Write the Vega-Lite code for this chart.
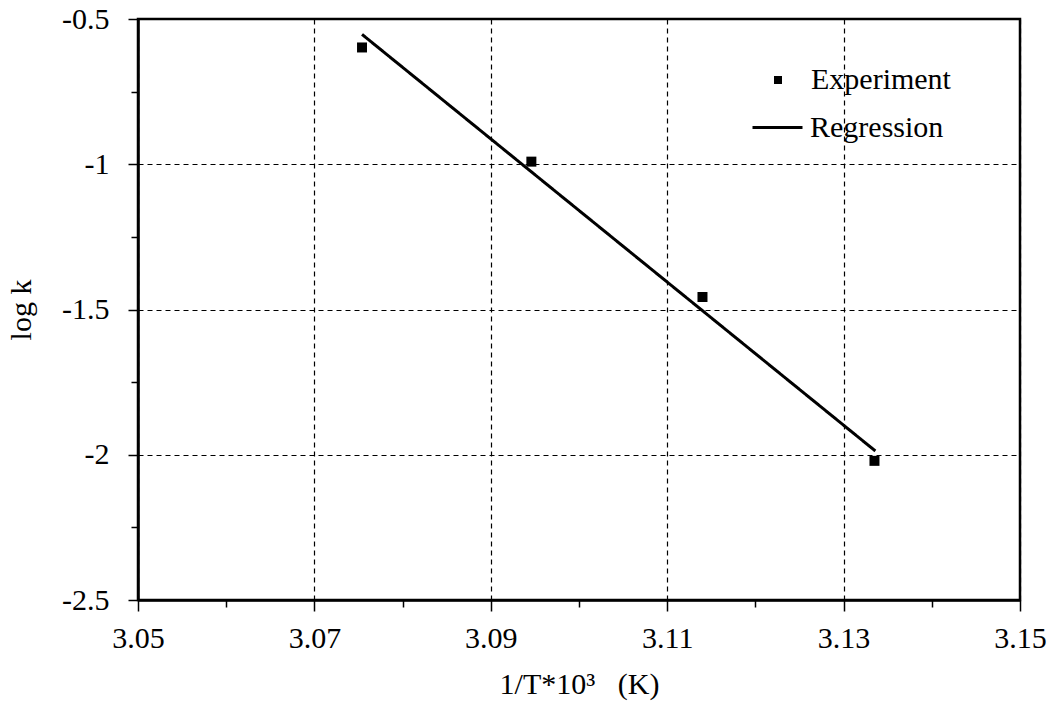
{
  "$schema": "https://vega.github.io/schema/vega-lite/v6.json",
  "width": 882,
  "height": 581,
  "autosize": {"type": "none"},
  "padding": {"left": 138, "top": 19, "right": 36, "bottom": 103},
  "background": "white",
  "config": {
    "view": {"stroke": "black", "strokeWidth": 2.5},
    "font": "Liberation Serif",
    "axis": {
      "labelFont": "Liberation Serif",
      "labelFontSize": 30,
      "labelColor": "black",
      "titleFont": "Liberation Serif",
      "titleFontSize": 30,
      "titleFontWeight": "normal",
      "titleColor": "black",
      "domainColor": "black",
      "domainWidth": 2.5,
      "tickColor": "black",
      "tickWidth": 1.5,
      "gridColor": "black",
      "gridWidth": 1.2,
      "gridDash": [5, 4]
    },
    "legend": {
      "labelFont": "Liberation Serif",
      "labelFontSize": 30,
      "labelColor": "black",
      "padding": 0
    }
  },
  "layer": [
    {
      "data": {
        "values": [
          {"invT": 3.0754, "logk": -0.598, "series": "Experiment"},
          {"invT": 3.0946, "logk": -0.991, "series": "Experiment"},
          {"invT": 3.114, "logk": -1.457, "series": "Experiment"},
          {"invT": 3.1335, "logk": -2.021, "series": "Experiment"}
        ]
      },
      "mark": {"type": "point", "filled": true, "color": "black", "size": 100, "opacity": 1},
      "encoding": {
        "x": {
          "field": "invT", "type": "quantitative",
          "scale": {"domain": [3.05, 3.15], "nice": false, "zero": false},
          "axis": {
            "title": "1/T*10³\u00a0\u00a0 (K)",
            "values": [3.05, 3.06, 3.07, 3.08, 3.09, 3.1, 3.11, 3.12, 3.13, 3.14, 3.15],
            "labelExpr": "round(datum.value*100) % 2 == 1 ? format(datum.value, '.2f') : ''",
            "tickSize": {"condition": {"test": "round(datum.value*100) % 2 == 1", "value": 11}, "value": 7},
            "gridOpacity": {"condition": {"test": "round(datum.value*100) % 2 == 1", "value": 1}, "value": 0},
            "labelPadding": 12,
            "titlePadding": 16,
            "labelFlush": false,
            "labelOverlap": false
          }
        },
        "y": {
          "field": "logk", "type": "quantitative",
          "scale": {"domain": [-2.5, -0.5], "nice": false, "zero": false},
          "axis": {
            "title": "log k",
            "values": [-2.5, -2.25, -2, -1.75, -1.5, -1.25, -1, -0.75, -0.5],
            "labelExpr": "round(datum.value*4) % 2 == 0 ? '' + datum.value : ''",
            "tickSize": {"condition": {"test": "round(datum.value*4) % 2 == 0", "value": 10}, "value": 7},
            "gridOpacity": {"condition": {"test": "round(datum.value*4) % 2 == 0", "value": 1}, "value": 0},
            "labelPadding": 19,
            "titlePadding": 25,
            "labelFlush": false,
            "labelOverlap": false
          }
        },
        "shape": {
          "field": "series", "type": "nominal",
          "scale": {"domain": ["Experiment"], "range": ["square"]},
          "legend": {
            "title": null,
            "orient": "none",
            "legendX": 625,
            "legendY": 46,
            "symbolSize": 64,
            "symbolFillColor": "black",
            "symbolStrokeWidth": 0,
            "labelOffset": 18
          }
        }
      }
    },
    {
      "data": {
        "values": [
          {"invT": 3.0754, "logk": -0.553, "series": "Regression"},
          {"invT": 3.1336, "logk": -1.987, "series": "Regression"}
        ]
      },
      "mark": {"type": "line", "color": "black", "strokeWidth": 3},
      "encoding": {
        "x": {"field": "invT", "type": "quantitative"},
        "y": {"field": "logk", "type": "quantitative"},
        "strokeDash": {
          "field": "series", "type": "nominal",
          "scale": {"domain": ["Regression"], "range": [[1, 0]]},
          "legend": {
            "title": null,
            "orient": "none",
            "legendX": 613,
            "legendY": 82,
            "symbolSize": 2500,
            "symbolStrokeColor": "black",
            "symbolStrokeWidth": 3,
            "labelOffset": 6
          }
        }
      }
    }
  ]
}
